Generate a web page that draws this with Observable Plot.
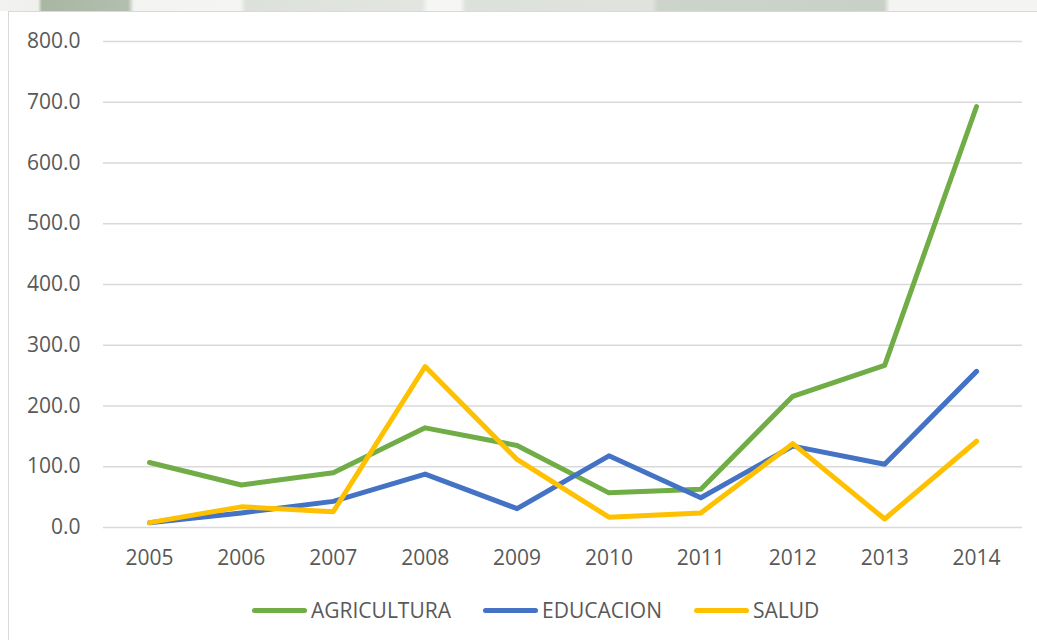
<!DOCTYPE html>
<html><head><meta charset="utf-8">
<script src="https://cdn.jsdelivr.net/npm/d3@7"></script>
<script src="https://cdn.jsdelivr.net/npm/@observablehq/plot@0.6"></script>
<style>
body{margin:0;width:1037px;height:640px;overflow:hidden;background:#fff;font-family:"Open Sans",sans-serif;position:relative;}
#band{position:absolute;left:0;top:0;width:1037px;height:11px;
background:linear-gradient(90deg,#f2f3f1 0px,#eef0ec 38px,#a9b6a4 42px,#b3bfae 128px,#f3f4f2 134px,#f5f6f4 240px,#dde1db 246px,#e2e5e0 422px,#f6f7f5 428px,#f6f7f5 460px,#dde1db 466px,#dfe2dd 652px,#cdd4ca 658px,#c9d1c6 884px,#f4f5f3 890px,#f4f5f3 1037px);}
#frame{position:absolute;left:8px;top:11px;width:1100px;height:700px;border:1px solid #d9d9d9;background:#fff;}
#chart{position:absolute;left:0;top:0;}
#legend{position:absolute;left:252px;top:596px;display:flex;align-items:center;color:#595959;font-size:21px;line-height:28px;}
.item{display:flex;align-items:center;margin-right:32px;}
.sw{display:inline-block;width:55px;height:5px;border-radius:3px;margin-right:4px;}
</style>
</head><body>
<div id="band"></div>
<div id="frame"></div>
<div id="chart"></div>
<div id="legend"></div>
<script>
const years = ["2005","2006","2007","2008","2009","2010","2011","2012","2013","2014"];
const seriesNames = ["AGRICULTURA","EDUCACION","SALUD"];
const seriesColors = ["#70AD47","#4472C4","#FFC000"];
const agricultura = [107, 70, 90, 164, 135, 57, 63, 216, 267, 693];
const educacion = [8, 24, 43, 88, 31, 118, 49, 134, 104, 257];
const salud = [8, 34, 26, 265, 112, 17, 24, 138, 14, 142];
const yTicks = [0,100,200,300,400,500,600,700,800];

const valuesBySeries = [agricultura, educacion, salud];
const data = [];
seriesNames.forEach((s, i) => years.forEach((y, j) => data.push({series: s, year: y, value: valuesBySeries[i][j]})));

const chart = Plot.plot({
  width: 1037,
  height: 580,
  marginLeft: 103,
  marginRight: 15,
  marginTop: 41,
  marginBottom: 53,
  style: {fontSize: "21px", fontFamily: "Open Sans, sans-serif", color: "#595959", background: "transparent"},
  x: {type: "point", domain: years, padding: 0.5, round: false},
  y: {domain: [0, 800], ticks: yTicks},
  color: {domain: seriesNames, range: seriesColors},
  marks: [
    Plot.gridY(yTicks, {stroke: "#d9d9d9", strokeOpacity: 1, strokeWidth: 1.5}),
    Plot.axisY(yTicks, {tickSize: 0, tickPadding: 23, tickFormat: d => d.toFixed(1), label: null}),
    Plot.axisX({tickSize: 0, tickPadding: 23, label: null}),
    Plot.line(data, {x: "year", y: "value", z: "series", stroke: "series", strokeWidth: 5, strokeLinecap: "round", strokeLinejoin: "round"})
  ]
});
document.getElementById("chart").appendChild(chart);

const legend = document.getElementById("legend");
seriesNames.forEach((s, i) => {
  const it = document.createElement("div");
  it.className = "item";
  const sw = document.createElement("span");
  sw.className = "sw";
  sw.style.background = seriesColors[i];
  const t = document.createElement("span");
  t.textContent = s;
  it.appendChild(sw); it.appendChild(t);
  legend.appendChild(it);
});
</script>
</body></html>
